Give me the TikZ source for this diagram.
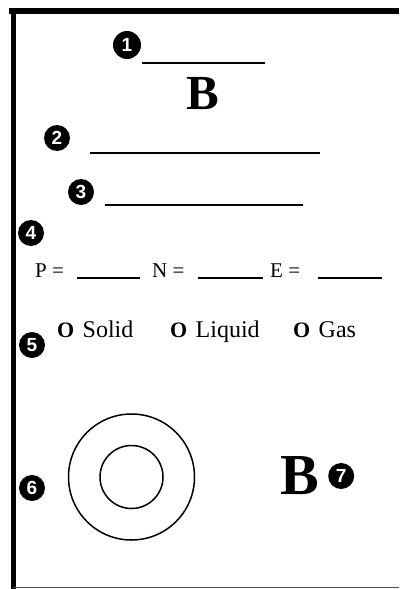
\documentclass[tikz,border=0pt]{standalone}
\usepackage{fontspec}
\setmainfont{Liberation Serif}
\setsansfont{Liberation Sans}
\usetikzlibrary{positioning}

\newcommand{\ringbox}{{\bfseries\fontsize{22}{22}\selectfont O}\hspace{0.35em}}

\begin{document}
\begin{tikzpicture}[
  x=1pt, y=-1pt,
  num/.style={circle, fill=black, text=white, inner sep=0pt, minimum size=26pt, font=\sffamily\bfseries\fontsize{19}{19}\selectfont},
  blank/.style={line width=1.8pt},
  field/.style={anchor=base west, inner sep=0pt, font=\fontsize{21}{21}\selectfont},
  opt/.style={anchor=base west, inner sep=0pt, font=\fontsize{24}{24}\selectfont},
  bigletter/.style={inner sep=0pt, font=\bfseries\fontsize{#1}{#1}\selectfont},
  ring/.style={line width=1.5pt}
]
  \useasboundingbox (0,0) rectangle (399,589);

  % card frame
  \draw[line width=6pt] (9,11) -- (399,11);
  \draw[line width=5pt] (13,8) -- (13,589);
  \draw[line width=1.5pt, black!70] (13,587.5) -- (399,587.5);

  % name and symbol
  \node[num, minimum size=28pt] (n1) at (127,45) {1};
  \draw[blank] (142,63) -- (265,63);
  \node[bigletter=49] (btop) at (203,94) {B};

  \node[num] (n2) at (57,138) {2};
  \draw[blank] (90,153) -- (320,153);

  \node[num] (n3) at (81,192) {3};
  \draw[blank] (105,205) -- (303,205);

  % particles
  \node[num] (n4) at (31,233) {4};
  \node[field] (p) at (35,277) {P =};
  \draw[blank] (77,278) -- (140,278);
  \node[field] (nn) at (152,277) {N =};
  \draw[blank] (198,278) -- (263,278);
  \node[field] (e) at (270,277) {E =};
  \draw[blank] (318,278) -- (382,278);

  % state of matter
  \node[num] (n5) at (32,345) {5};
  \node[opt] (solid) at (57,337) {\ringbox Solid};
  \node[opt] (liquid) at (170,337) {\ringbox Liquid};
  \node[opt] (gas) at (293,337) {\ringbox Gas};

  % model and symbol
  \node[num] (n6) at (32,488) {6};
  \node[ring, circle, draw, minimum size=126pt, inner sep=0pt] (outer) at (131.5,477) {};
  \node[ring, circle, draw, minimum size=63pt, inner sep=0pt] (inner) at (outer.center) {};

  \node[bigletter=58] (bbot) at (300,476) {B};
  \node[num, right=28pt of bbot.center] (n7) {7};
\end{tikzpicture}
\end{document}
